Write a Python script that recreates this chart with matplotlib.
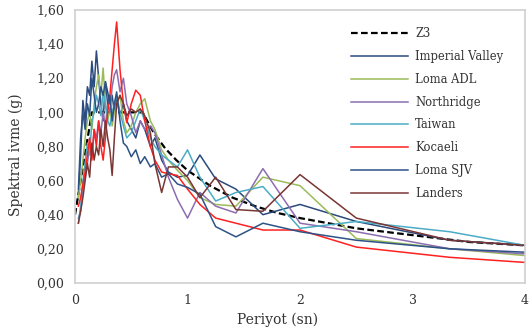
import matplotlib
matplotlib.use('Agg')
import matplotlib.pyplot as plt
import matplotlib.ticker as mticker

# Periyotlar (sn)
periods = [0.03, 0.05, 0.07, 0.09, 0.11, 0.13, 0.15, 0.17, 0.19, 0.21, 0.23, 0.25,
           0.27, 0.29, 0.31, 0.33, 0.35, 0.37, 0.40, 0.43, 0.46, 0.50, 0.54, 0.58,
           0.62, 0.67, 0.71, 0.77, 0.83, 0.91, 1.00, 1.11, 1.25, 1.43, 1.67, 2.00,
           2.50, 3.33, 4.00]

# Z3 tasarim spektrumu
z3_periods = [0.0, 0.15, 0.6, 0.7, 0.8, 0.9, 1.0, 1.2, 1.4, 1.6, 1.8, 2.0, 2.5, 3.0, 3.5, 4.0]
z3_values = [0.40, 1.00, 1.00, 0.88, 0.79, 0.72, 0.66, 0.57, 0.50, 0.45, 0.41, 0.38, 0.32, 0.28, 0.24, 0.22]

imperial_valley = [0.50, 0.75, 1.07, 0.95, 1.15, 1.10, 1.30, 1.15, 1.36, 1.20, 1.05, 0.95,
                   1.18, 1.12, 1.05, 1.10, 1.00, 1.08, 0.98, 1.05, 0.95, 0.90, 0.85, 0.95,
                   0.90, 0.80, 0.85, 0.72, 0.65, 0.62, 0.63, 0.75, 0.61, 0.55, 0.40, 0.46,
                   0.36, 0.25, 0.22]
loma_adl = [0.50, 0.60, 0.72, 0.85, 0.95, 1.00, 0.90, 1.05, 1.15, 1.22, 1.10, 1.26,
            1.05, 0.95, 1.02, 0.92, 1.00, 1.05, 1.10, 0.95, 0.88, 0.92, 1.00, 1.05,
            1.08, 0.95, 0.90, 0.78, 0.72, 0.66, 0.60, 0.50, 0.46, 0.45, 0.62, 0.57,
            0.26, 0.20, 0.16]
northridge = [0.38, 0.42, 0.55, 0.62, 0.70, 0.80, 0.75, 0.90, 0.85, 0.95, 0.88, 1.00,
              0.92, 1.05, 1.00, 1.15, 1.22, 1.25, 1.12, 1.20, 1.05, 0.98, 0.88, 0.95,
              0.90, 0.92, 0.88, 0.75, 0.62, 0.49, 0.38, 0.53, 0.45, 0.41, 0.67, 0.35,
              0.30, 0.20, 0.17]
taiwan = [0.35, 0.45, 0.60, 0.70, 0.82, 0.75, 0.95, 1.00, 1.10, 1.05, 0.98, 1.12,
          1.05, 0.95, 0.92, 1.00, 1.05, 1.10, 1.00, 0.92, 0.85, 0.88, 0.95, 1.02,
          0.95, 0.85, 0.80, 0.75, 0.72, 0.68, 0.78, 0.62, 0.48, 0.53, 0.565, 0.32,
          0.36, 0.30, 0.22]
kocaeli = [0.45, 0.50, 0.58, 0.65, 0.75, 0.85, 0.72, 0.90, 0.80, 0.95, 0.80, 0.72,
           0.85, 1.00, 1.10, 1.25, 1.40, 1.53, 1.25, 1.05, 0.94, 1.05, 1.13, 1.10,
           0.95, 0.80, 0.72, 0.65, 0.64, 0.63, 0.55, 0.46, 0.38, 0.35, 0.31, 0.31,
           0.21, 0.15, 0.12]
loma_sjv = [0.55, 0.85, 1.00, 0.90, 1.05, 0.98, 1.20, 1.10, 1.00, 1.05, 1.15, 1.10,
            1.18, 1.05, 1.10, 0.95, 1.05, 1.12, 0.95, 0.82, 0.80, 0.74, 0.78, 0.70,
            0.74, 0.68, 0.70, 0.62, 0.64, 0.58, 0.56, 0.52, 0.33, 0.27, 0.35, 0.30,
            0.25, 0.20, 0.18]
landers = [0.35, 0.42, 0.50, 0.60, 0.70, 0.62, 0.82, 0.72, 0.80, 0.75, 0.90, 0.80,
           0.95, 0.85, 0.78, 0.63, 0.85, 1.05, 1.10, 1.05, 0.98, 1.02, 1.00, 1.02,
           0.98, 0.88, 0.70, 0.53, 0.68, 0.68, 0.62, 0.50, 0.62, 0.43, 0.42, 0.635,
           0.38, 0.25, 0.22]

records = [
    ('Imperial Valley', imperial_valley, '#2a4a7c'),
    ('Loma ADL', loma_adl, '#9bbb59'),
    ('Northridge', northridge, '#8c6db0'),
    ('Taiwan', taiwan, '#4bacc6'),
    ('Kocaeli', kocaeli, '#ff2020'),
    ('Loma SJV', loma_sjv, '#2d5287'),
    ('Landers', landers, '#7a3535'),
]

plt.rcParams['font.family'] = ['DejaVu Serif']
text_color = '#333333'

fig = plt.figure(figsize=(5.32, 3.34), dpi=100)
ax = fig.add_axes([0.141, 0.153, 0.846, 0.817])

ax.plot(z3_periods, z3_values, color='black', linestyle=(0, (3, 1.5)), linewidth=1.6, label='Z3')
for name, vals, col in records:
    ax.plot(periods, vals, color=col, linewidth=1.1, label=name)

ax.set_xlim(0, 4)
ax.set_ylim(0, 1.6)
ax.set_xticks([0, 1, 2, 3, 4])
ax.set_yticks([0, 0.2, 0.4, 0.6, 0.8, 1.0, 1.2, 1.4, 1.6])
ax.yaxis.set_major_formatter(mticker.FuncFormatter(lambda v, p: f'{v:.2f}'.replace('.', ',')))
ax.tick_params(length=0, labelsize=9, colors=text_color, pad=8)
for s in ax.spines.values():
    s.set_color('#d0d0d0')
    s.set_linewidth(1.2)

ax.set_xlabel('Periyot (sn)', fontsize=10, color=text_color)
ax.set_ylabel('Spektral ivme (g)', fontsize=10, color=text_color)
ax.xaxis.set_label_coords(0.45, -0.11)
ax.yaxis.set_label_coords(-0.115, 0.47)

leg = ax.legend(loc='upper right', bbox_to_anchor=(0.975, 0.975), frameon=False,
                fontsize=8.3, handlelength=5.0, handletextpad=0.6, labelspacing=0.85)
for t in leg.get_texts():
    t.set_color(text_color)

fig.savefig('out.png', dpi=100)
